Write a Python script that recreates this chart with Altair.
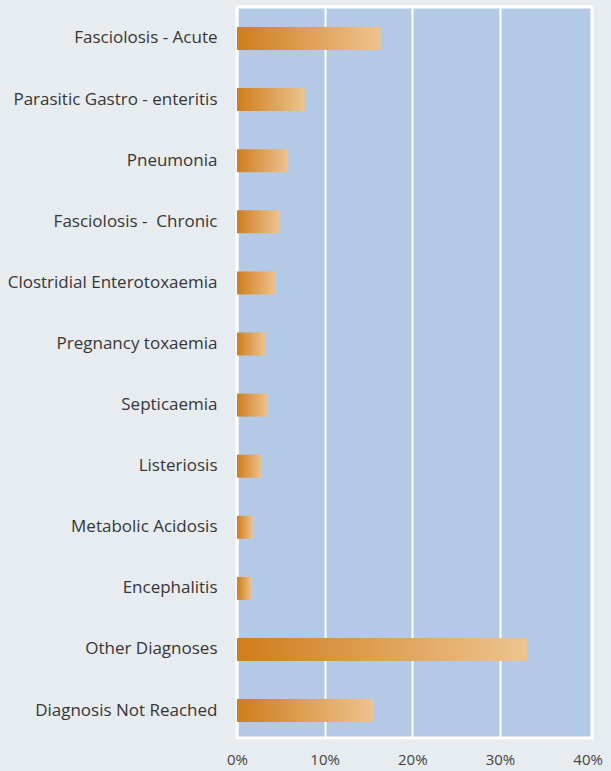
import altair as alt
import pandas as pd

categories = [
    "Fasciolosis - Acute",
    "Parasitic Gastro - enteritis",
    "Pneumonia",
    "Fasciolosis -\u00a0 Chronic",
    "Clostridial Enterotoxaemia",
    "Pregnancy toxaemia",
    "Septicaemia",
    "Listeriosis",
    "Metabolic Acidosis",
    "Encephalitis",
    "Other Diagnoses",
    "Diagnosis Not Reached",
]
values = [16.4, 7.75, 5.85, 4.8, 4.45, 3.2, 3.5, 2.85, 1.8, 1.7, 33.1, 15.6]

df = pd.DataFrame({"cat": categories, "val": [v / 100 for v in values]})

grad = alt.Gradient(
    gradient="linear",
    stops=[
        alt.GradientStop(offset=0, color="#cf7d1c"),
        alt.GradientStop(offset=1, color="#edc38f"),
    ],
    x1=0, x2=1, y1=0, y2=0,
)

chart = (
    alt.Chart(df)
    .mark_bar(color=grad)
    .encode(
        x=alt.X(
            "val:Q",
            scale=alt.Scale(domain=[0, 0.405], nice=False, zero=True),
            axis=alt.Axis(
                format=".0%",
                values=[0, 0.1, 0.2, 0.3, 0.4],
                title=None,
                domain=False,
                ticks=False,
                grid=True,
                gridColor="white",
                gridWidth=2,
                gridOpacity={"condition": {"test": "datum.value >= 0.39", "value": 0}, "value": 1},
                labelFont="Open Sans",
                labelFontSize=15,
                labelColor="#444444",
                labelPadding=14,
                labelFlush=False,
            ),
        ),
        y=alt.Y(
            "cat:N",
            sort=None,
            scale=alt.Scale(paddingInner=0.624, paddingOuter=0.294, align=0.557),
            axis=alt.Axis(
                title=None,
                domain=False,
                ticks=False,
                grid=False,
                labelFont="Open Sans",
                labelFontSize=17,
                labelColor="#363636",
                labelPadding=20,
                labelLimit=300,
            ),
        ),
    )
    .properties(
        width=355,
        height=731,
        background="#e7ecf0",
        padding={"left": 237, "top": 7, "right": 19, "bottom": 33},
        autosize=alt.AutoSizeParams(type="none"),
    )
    .configure_view(fill="#b3c9e6", stroke="white", strokeWidth=3)
)

chart.save("out.html", embed_options={"renderer": "svg", "actions": False})
